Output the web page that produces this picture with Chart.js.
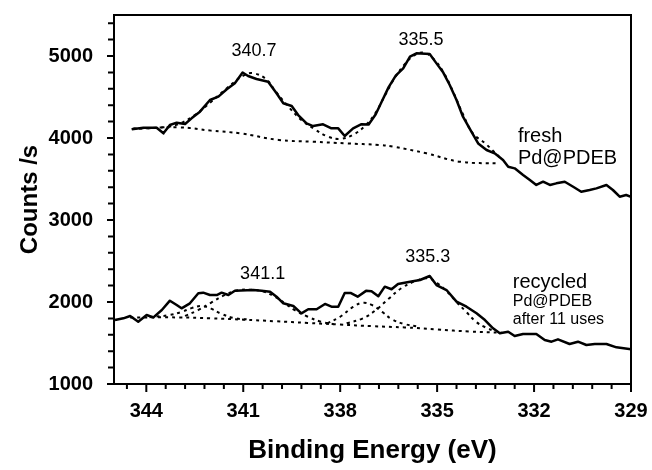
<!DOCTYPE html>
<html>
<head>
<meta charset="utf-8">
<script src="https://cdn.jsdelivr.net/npm/chart.js@4/dist/chart.umd.min.js"></script>
<style>
  html, body { margin: 0; padding: 0; background: #fff; }
  #wrap { width: 652px; height: 470px; }
</style>
</head>
<body>
<div id="wrap"><canvas id="xps"></canvas></div>
<script>
// axis ticks
const xTicks = [344, 341, 338, 335, 332, 329];
const yTicks = [1000, 2000, 3000, 4000, 5000];

// fresh Pd@PDEB: measured spectrum
const freshEnergy = [344.45, 344.09, 343.68, 343.47, 343.27, 343.06, 342.80, 342.60, 342.34, 342.03,
  341.77, 341.51, 341.26, 341.02, 340.85, 340.59, 340.23, 339.97, 339.76, 339.50,
  339.30, 339.04, 338.84, 338.53, 338.27, 338.06, 337.86, 337.60, 337.34, 337.12,
  336.90, 336.72, 336.50, 336.28, 336.05, 335.84, 335.64, 335.23, 335.02, 334.81,
  334.61, 334.40, 334.20, 333.94, 333.73, 333.47, 333.22, 332.96, 332.80, 332.60,
  332.34, 332.13, 331.93, 331.72, 331.51, 331.31, 331.05, 330.79, 330.54, 330.28,
  330.07, 329.76, 329.56, 329.35, 329.15, 329.00];
const freshCounts = [4106, 4126, 4126, 4057, 4159, 4187, 4171, 4240, 4321, 4463,
  4504, 4594, 4667, 4798, 4756, 4720, 4687, 4545, 4423, 4390,
  4280, 4179, 4146, 4167, 4118, 4118, 4024, 4118, 4168, 4165,
  4290, 4440, 4620, 4760, 4850, 4992, 5033, 5024, 4910, 4798,
  4646, 4463, 4260, 4077, 3934, 3854, 3813, 3732, 3650, 3630,
  3549, 3488, 3427, 3467, 3427, 3447, 3467, 3406, 3345, 3366,
  3386, 3427, 3366, 3284, 3305, 3284];

// fresh: fitted envelope and background
const freshFitEnergy = [344.4, 343.5, 343.0, 342.5, 342.0, 341.5, 341.0, 340.7, 340.3, 340.0,
  339.6, 339.2, 338.8, 338.4, 338.0, 337.6, 337.2, 336.9, 336.6, 336.3,
  336.0, 335.7, 335.4, 335.1, 334.8, 334.5, 334.2, 333.9, 333.5, 333.0];
const freshFitCounts = [4115, 4130, 4170, 4280, 4440, 4610, 4760, 4790, 4720, 4570,
  4380, 4220, 4110, 4020, 3990, 4040, 4160, 4310, 4530, 4740,
  4900, 5010, 5040, 4960, 4800, 4560, 4290, 4060, 3930, 3740];
const freshBaseEnergy = [344.45, 343.0, 342.0, 341.1, 339.9, 338.85, 337.8, 336.8, 336.36, 335.33, 334.3, 333.06];
const freshBaseCounts = [4110, 4130, 4090, 4057, 3976, 3955, 3934, 3915, 3894, 3813, 3711, 3690];

// recycled Pd@PDEB after 11 uses: measured spectrum
const recycledEnergy = [344.97, 344.71, 344.50, 344.25, 343.99, 343.78, 343.52, 343.27, 343.06, 342.91,
  342.65, 342.39, 342.24, 342.03, 341.82, 341.67, 341.46, 341.26, 340.69, 340.43,
  340.17, 339.97, 339.76, 339.45, 339.20, 338.99, 338.73, 338.47, 338.27, 338.06,
  337.86, 337.68, 337.46, 337.20, 337.03, 336.82, 336.62, 336.41, 336.21, 335.84,
  335.53, 335.23, 335.02, 334.71, 334.40, 334.09, 333.78, 333.52, 333.27, 333.06,
  332.80, 332.60, 332.34, 331.93, 331.67, 331.46, 331.26, 330.90, 330.64, 330.38,
  330.12, 329.76, 329.45, 329.00];
const recycledCounts = [1780, 1801, 1829, 1760, 1841, 1813, 1902, 2016, 1963, 1923,
  1984, 2106, 2114, 2085, 2085, 2114, 2085, 2138, 2146, 2138,
  2126, 2065, 1984, 1951, 1862, 1911, 1911, 1976, 1943, 1943,
  2110, 2110, 2065, 2136, 2132, 2070, 2187, 2155, 2220, 2248,
  2268, 2317, 2207, 2146, 2004, 1943, 1862, 1780, 1679, 1618,
  1638, 1585, 1610, 1610, 1537, 1516, 1545, 1488, 1516, 1476,
  1488, 1488, 1447, 1423];

// recycled: background and fitted components
const recycledBaseEnergy = [344.5, 343.0, 342.0, 341.0, 340.0, 339.0, 338.0, 337.0, 336.0, 335.0, 334.0, 333.0];
const recycledBaseCounts = [1810, 1812, 1800, 1785, 1765, 1745, 1725, 1705, 1690, 1665, 1640, 1625];
const peakAEnergy = [343.9, 343.3, 342.9, 342.6, 342.3, 342.0, 341.7, 341.3, 340.8];
const peakACounts = [1815, 1840, 1880, 1925, 1950, 1920, 1860, 1805, 1785];
const peakBEnergy = [342.8, 342.4, 342.0, 341.6, 341.2, 340.8, 340.4, 340.0, 339.7, 339.4, 339.0, 338.6, 338.2];
const peakBCounts = [1830, 1900, 1990, 2080, 2140, 2150, 2130, 2060, 1980, 1900, 1820, 1760, 1730];
const peakCEnergy = [338.4, 338.0, 337.6, 337.3, 337.0, 336.7, 336.4, 336.0, 335.6];
const peakCCounts = [1740, 1820, 1940, 1990, 1960, 1880, 1790, 1730, 1700];
const peakDEnergy = [337.8, 337.3, 336.9, 336.5, 336.1, 335.7, 335.3, 335.0, 334.7, 334.4, 334.1, 333.8, 333.5, 333.2];
const peakDCounts = [1740, 1800, 1900, 2040, 2170, 2250, 2290, 2230, 2130, 2000, 1880, 1760, 1690, 1640];

// text on the plot
const notes = [
  { text: '340.7', x: 340.67, y: 5060, size: 18, align: 'center' },
  { text: '335.5', x: 335.5, y: 5195, size: 18, align: 'center' },
  { text: '341.1', x: 340.4, y: 2341, size: 18, align: 'center' },
  { text: '335.3', x: 335.29, y: 2549, size: 18, align: 'center' },
  { text: 'fresh', x: 332.5, y: 4024, size: 20, align: 'left' },
  { text: 'Pd@PDEB', x: 332.5, y: 3756, size: 20, align: 'left' },
  { text: 'recycled', x: 332.66, y: 2244, size: 20, align: 'left' },
  { text: 'Pd@PDEB', x: 332.66, y: 2000, size: 16, align: 'left' },
  { text: 'after 11 uses', x: 332.66, y: 1780, size: 16, align: 'left' }
];

const FONT = "'Liberation Sans', Arial, sans-serif";
const pts = (xs, ys) => xs.map((v, i) => ({ x: v, y: ys[i] }));

const solid = (label, xs, ys) => ({
  label, data: pts(xs, ys), showLine: true, borderColor: '#000', borderWidth: 2.5,
  pointRadius: 0, tension: 0, borderJoinStyle: 'round', order: 0
});
const dotted = (label, xs, ys) => ({
  label, data: pts(xs, ys), showLine: true, borderColor: '#000', borderWidth: 2,
  borderDash: [3, 4], pointRadius: 0, tension: 0.4, order: 1
});

// frame, ticks and text
const decorations = {
  id: 'decorations',
  afterDraw(chart) {
    const { ctx, chartArea: a, scales: { x, y } } = chart;
    ctx.save();
    ctx.strokeStyle = '#000';
    ctx.lineWidth = 2;
    ctx.beginPath();
    for (let i = 0; i <= 26; i++) {
      const px = x.getPixelForValue(329 + 0.6 * i);
      ctx.moveTo(px, a.bottom);
      ctx.lineTo(px, a.bottom + (i % 5 === 0 ? 8 : 5));
    }
    for (let i = 0; i <= 22; i++) {
      const py = y.getPixelForValue(1000 + 200 * i);
      ctx.moveTo(a.left, py);
      ctx.lineTo(a.left - (i % 5 === 0 ? 7 : 6), py);
    }
    ctx.stroke();
    ctx.strokeRect(a.left, a.top, a.right - a.left, a.bottom - a.top);

    ctx.fillStyle = '#000';
    ctx.textBaseline = 'middle';
    notes.forEach(n => {
      ctx.font = n.size + 'px ' + FONT;
      ctx.textAlign = n.align;
      ctx.fillText(n.text, x.getPixelForValue(n.x), y.getPixelForValue(n.y));
    });
    ctx.restore();
  }
};

new Chart(document.getElementById('xps'), {
  type: 'scatter',
  data: {
    datasets: [
      dotted('fresh background', freshBaseEnergy, freshBaseCounts),
      dotted('fresh fit', freshFitEnergy, freshFitCounts),
      dotted('recycled background', recycledBaseEnergy, recycledBaseCounts),
      dotted('peak A', peakAEnergy, peakACounts),
      dotted('peak B', peakBEnergy, peakBCounts),
      dotted('peak C', peakCEnergy, peakCCounts),
      dotted('peak D', peakDEnergy, peakDCounts),
      solid('fresh', freshEnergy, freshCounts),
      solid('recycled', recycledEnergy, recycledCounts)
    ]
  },
  options: {
    responsive: true,
    maintainAspectRatio: false,
    animation: false,
    layout: { padding: { top: 15, right: 21, left: 0, bottom: 0 } },
    plugins: { legend: { display: false }, tooltip: { enabled: false } },
    scales: {
      x: {
        type: 'linear',
        reverse: true,
        min: 329,
        max: 345,
        afterBuildTicks: s => { s.ticks = xTicks.map(v => ({ value: v })); },
        afterFit: s => { s.height = 86; s.paddingLeft = 0; s.paddingRight = 0; },
        grid: { display: false, drawTicks: false },
        border: { display: false },
        ticks: { color: '#000', padding: 15, maxRotation: 0, font: { family: FONT, size: 20, weight: 'bold' } },
        title: {
          display: true, text: 'Binding Energy (eV)', color: '#000',
          padding: { top: 0, bottom: 6 }, font: { family: FONT, size: 26, weight: 'bold', lineHeight: 1 }
        }
      },
      y: {
        min: 1000,
        max: 5500,
        afterBuildTicks: s => { s.ticks = yTicks.map(v => ({ value: v })); },
        afterFit: s => { s.width = 114; s.paddingTop = 0; s.paddingBottom = 0; },
        grid: { display: false, drawTicks: false },
        border: { display: false },
        ticks: {
          color: '#000', padding: 21, font: { family: FONT, size: 20, weight: 'bold' },
          callback: v => String(v)
        },
        title: {
          display: true, text: 'Counts /s', color: '#000',
          padding: { top: 18, bottom: 0 }, font: { family: FONT, size: 24, weight: 'bold', lineHeight: 1 }
        }
      }
    }
  },
  plugins: [decorations]
});
</script>
</body>
</html>
